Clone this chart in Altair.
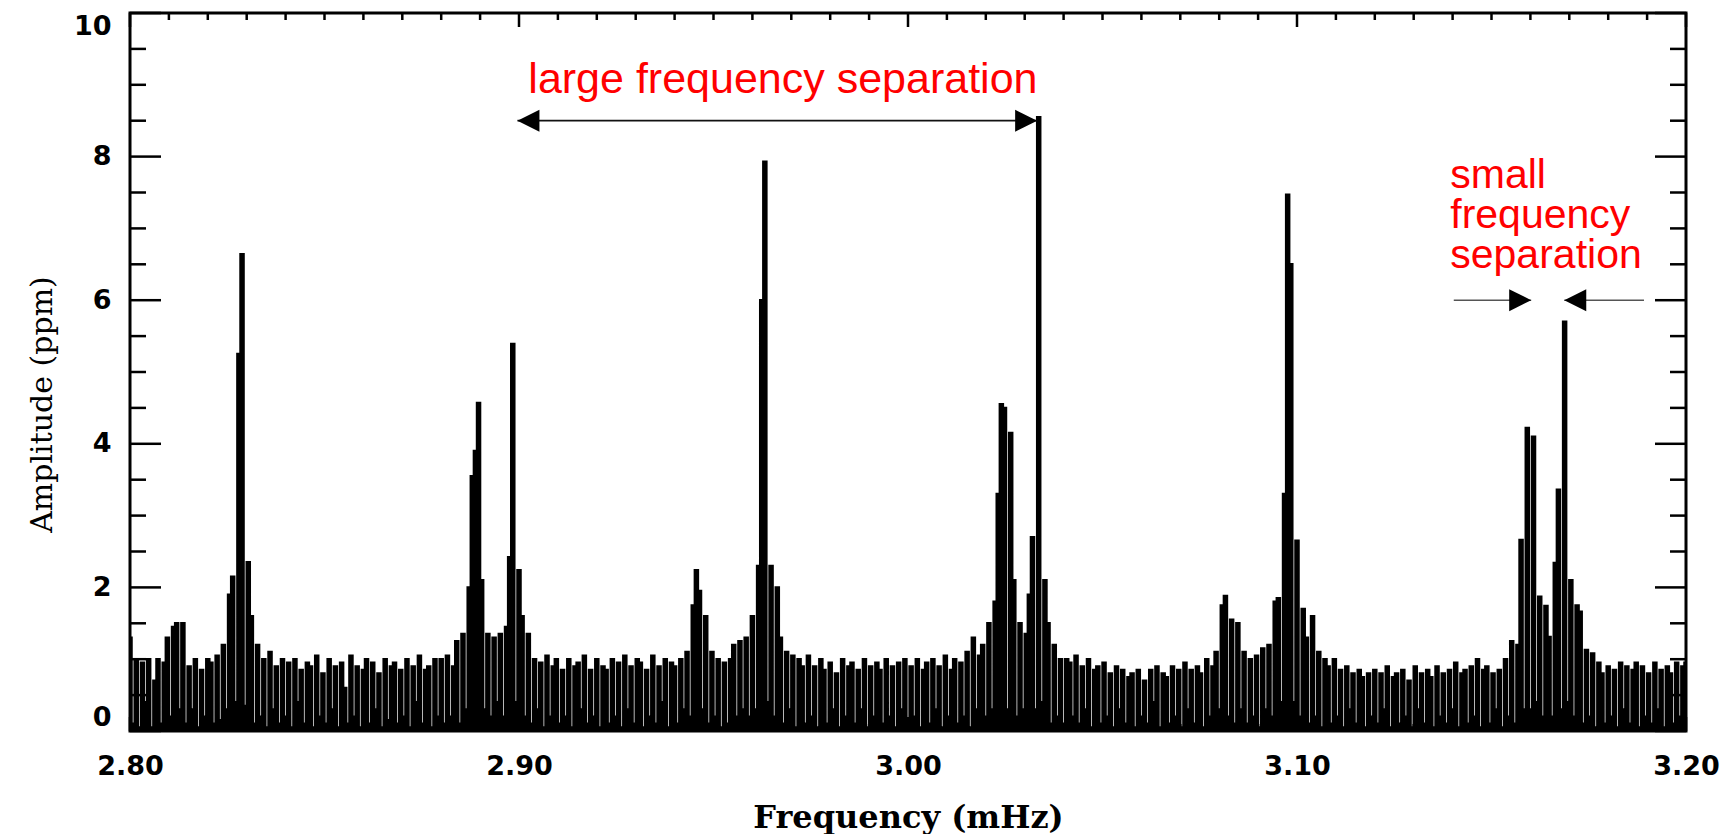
import altair as alt
import pandas as pd

# ---------------- data ----------------
F_START = 2.80      # mHz, first bin
F_STEP = 0.0008     # mHz, bin width

amp_2_80 = [1.3, 0.1, 1.0, 0.05, 0.95, 0.4, 1.0, 0.05, 0.7, 1.0,
            0.1, 0.95, 1.3, 0.2, 1.45, 1.5, 0.3, 1.5, 0.1, 0.9,
            0.3, 1.0, 0.05, 0.85, 0.2, 1.0, 0.95, 0.1, 1.05, 0.15,
            1.2, 0.3, 1.9, 2.15, 0.4, 5.25, 6.64, 0.35, 2.35, 1.6,
            0.1, 1.2, 0.2, 1.0, 0.05, 1.1, 0.3, 0.9, 0.1, 1.0]
amp_2_84 = [0.2, 0.95, 0.05, 1.0, 0.4, 0.85, 0.1, 0.95, 0.9, 0.05,
            1.05, 0.2, 0.8, 0.1, 1.0, 0.3, 0.9, 0.05, 0.95, 0.6,
            0.1, 1.05, 0.2, 0.9, 0.05, 0.85, 1.0, 0.1, 0.95, 0.3,
            0.8, 0.05, 1.0, 0.15, 0.9, 0.95, 0.1, 0.85, 0.2, 1.0,
            0.05, 0.9, 0.4, 1.05, 0.1, 0.85, 0.9, 0.05, 1.0, 0.2]
amp_2_88 = [1.0, 0.1, 1.05, 0.2, 0.9, 1.25, 0.1, 1.35, 0.3, 2.0,
            3.55, 3.9, 4.57, 2.1, 0.3, 1.35, 0.2, 1.3, 0.4, 1.35,
            0.2, 1.45, 2.42, 5.39, 0.4, 2.24, 1.6, 0.2, 1.35, 0.1,
            1.0, 0.3, 0.95, 0.05, 1.05, 0.2, 0.9, 1.0, 0.1, 0.85,
            0.2, 1.0, 0.05, 0.9, 0.95, 0.3, 1.05, 0.1, 0.85, 0.2]
amp_2_92 = [1.0, 0.05, 0.9, 0.85, 0.1, 1.0, 0.2, 0.95, 0.05, 1.05,
            0.3, 0.9, 0.1, 1.0, 0.95, 0.05, 0.85, 0.2, 1.05, 0.1,
            0.9, 0.4, 1.0, 0.05, 0.95, 0.9, 0.1, 1.0, 0.3, 1.1,
            0.2, 1.75, 2.24, 1.95, 0.3, 1.6, 0.1, 1.1, 0.2, 1.0,
            0.05, 0.95, 0.1, 1.0, 1.2, 0.2, 1.25, 0.3, 1.3, 0.2]
amp_2_96 = [1.6, 0.3, 2.3, 6.0, 7.93, 0.4, 2.3, 0.2, 2.0, 1.3,
            0.1, 1.1, 0.3, 1.05, 0.05, 1.0, 0.9, 0.1, 1.05, 0.2,
            0.9, 0.05, 1.0, 0.85, 0.1, 0.95, 0.3, 0.8, 0.05, 1.0,
            0.2, 0.9, 0.95, 0.1, 0.85, 0.3, 1.0, 0.05, 0.9, 0.2,
            0.95, 0.85, 0.1, 1.0, 0.2, 0.9, 0.05, 0.95, 0.3, 1.0]
amp_3_00 = [0.1, 0.9, 0.2, 1.0, 0.05, 0.85, 0.95, 0.1, 1.0, 0.3,
            0.9, 0.05, 1.05, 0.2, 0.85, 1.0, 0.1, 0.95, 0.2, 1.1,
            0.05, 1.3, 0.3, 1.05, 1.2, 0.2, 1.5, 0.3, 1.8, 3.3,
            4.55, 4.5, 0.3, 4.15, 2.1, 0.2, 1.5, 0.3, 1.35, 1.9,
            2.7, 0.3, 8.55, 0.4, 2.1, 1.5, 0.1, 1.2, 0.2, 1.0]
amp_3_04 = [0.1, 1.0, 0.95, 0.2, 1.05, 0.1, 0.9, 0.3, 1.0, 0.05,
            0.85, 0.9, 0.1, 0.95, 0.2, 0.8, 0.05, 0.9, 0.3, 0.85,
            0.1, 0.75, 0.8, 0.05, 0.85, 0.2, 0.7, 0.1, 0.85, 0.4,
            0.9, 0.05, 0.8, 0.75, 0.1, 0.9, 0.2, 0.85, 0.05, 0.95,
            0.3, 0.85, 0.1, 0.9, 0.8, 0.05, 1.0, 0.2, 0.9, 1.1]
amp_3_08 = [0.3, 1.75, 1.88, 0.2, 1.55, 0.1, 1.5, 0.3, 1.1, 0.1,
            1.0, 0.2, 1.05, 0.05, 1.15, 0.3, 1.2, 0.2, 1.8, 1.85,
            0.4, 3.3, 7.47, 6.5, 0.4, 2.65, 0.2, 1.7, 1.3, 0.1,
            1.6, 0.2, 1.1, 0.05, 1.0, 0.9, 0.1, 1.0, 0.2, 0.85,
            0.05, 0.9, 0.3, 0.8, 0.1, 0.85, 0.75, 0.05, 0.8, 0.2]
amp_3_12 = [0.85, 0.1, 0.8, 0.3, 0.9, 0.05, 0.75, 0.8, 0.1, 0.85,
            0.2, 0.7, 0.05, 0.9, 0.3, 0.8, 0.1, 0.85, 0.75, 0.05,
            0.9, 0.2, 0.8, 0.1, 0.85, 0.3, 0.95, 0.05, 0.8, 0.85,
            0.1, 0.9, 0.2, 1.0, 0.05, 0.85, 0.9, 0.1, 0.8, 0.3,
            0.85, 0.05, 1.0, 0.2, 1.25, 0.1, 1.2, 2.66, 0.3, 4.22]
amp_3_16 = [0.3, 4.1, 0.4, 1.87, 0.2, 1.74, 1.31, 0.2, 2.34, 3.36,
            0.3, 5.7, 0.4, 2.1, 0.2, 1.75, 1.66, 0.1, 1.13, 0.2,
            1.08, 0.05, 0.95, 0.8, 0.1, 0.9, 0.2, 0.85, 0.05, 0.95,
            0.3, 0.9, 0.1, 0.85, 0.95, 0.05, 0.9, 0.2, 0.8, 0.1,
            0.95, 0.3, 0.85, 0.05, 0.9, 0.8, 0.1, 0.95, 0.2, 0.9]
amp_3_20 = [0.95]

x_tick_labels = [2.80, 2.90, 3.00, 3.10, 3.20]
y_tick_labels = [0, 2, 4, 6, 8, 10]
y_minor_ticks = [0.5, 1, 1.5, 2.5, 3, 3.5, 4.5, 5, 5.5, 6.5, 7, 7.5, 8.5, 9, 9.5]
x_minor_ticks = [round(2.8 + 0.01 * k, 2) for k in range(41) if k % 10]

big_label = "large frequency separation"
small_label = "small\nfrequency\nseparation"

# annotation anchor values (mHz, ppm)
big_arrow = {"from": 2.8996, "to": 3.0332, "amp": 8.5}
small_arrow = {"left_start": 3.1403, "left_tip": 3.1602,
               "right_tip": 3.1687, "right_end": 3.1892, "amp": 6.0}

# ---------------- build tables ----------------
amplitude = (amp_2_80 + amp_2_84 + amp_2_88 + amp_2_92 + amp_2_96 +
             amp_3_00 + amp_3_04 + amp_3_08 + amp_3_12 + amp_3_16 + amp_3_20)
frequency = [round(F_START + F_STEP * i, 4) for i in range(len(amplitude))]
spec = pd.DataFrame({"freq": frequency, "amp": amplitude})

W, H = 1556, 718

xs = alt.Scale(domain=[2.8, 3.2], nice=False, zero=False)
ys = alt.Scale(domain=[0, 10], nice=False, zero=False)

x_axis = alt.Axis(values=x_tick_labels, format=".2f", title="Frequency (mHz)",
                  ticks=False, domain=False, grid=False, labelFlush=False,
                  labelPadding=22, labelFont="DejaVu Sans", labelFontWeight="bold",
                  labelFontSize=27, labelColor="black",
                  titleFont="DejaVu Serif", titleFontWeight="bold", titleFontSize=32,
                  titleColor="black", titleY=71, titleBaseline="top")
y_axis = alt.Axis(values=y_tick_labels, format="d", title="Amplitude (ppm)",
                  ticks=False, domain=False, grid=False, labelFlush=True,
                  labelPadding=19, labelFont="DejaVu Sans", labelFontWeight="bold",
                  labelFontSize=27, labelColor="black",
                  titleFont="DejaVu Serif", titleFontWeight="normal", titleFontSize=30,
                  titleColor="black", titleX=-88, titleY=391, titleBaseline="middle")


def X(field="freq"):
    return alt.X(f"{field}:Q", scale=xs, axis=x_axis)


def Y(field="amp"):
    return alt.Y(f"{field}:Q", scale=ys, axis=y_axis)


spec_fill = alt.Chart(spec).mark_area(interpolate="step", color="black", opacity=1,
                                      clip=True).encode(x=X(), y=Y())
spec_line = alt.Chart(spec).mark_line(interpolate="step", color="black",
                                      strokeWidth=2.4, clip=True).encode(x=X(), y=Y())


# ticks pointing inward on all four sides
def ytick(values, x0, x1):
    return alt.Chart(pd.DataFrame({"amp": values})).mark_rule(
        color="black", strokeWidth=2.5).encode(y=Y(), x=alt.value(x0), x2=alt.value(x1))


def xtick(values, y0, y1):
    return alt.Chart(pd.DataFrame({"freq": values})).mark_rule(
        color="black", strokeWidth=2.5).encode(x=X(), y=alt.value(y0), y2=alt.value(y1))


ticks = [
    ytick(y_tick_labels, 0, 31), ytick(y_tick_labels, W - 31, W),
    ytick(y_minor_ticks, 0, 16), ytick(y_minor_ticks, W - 16, W),
    xtick(x_tick_labels, 0, 14), xtick(x_tick_labels, H - 14, H),
    xtick(x_minor_ticks, 0, 7), xtick(x_minor_ticks, H - 7, H),
]

# arrows
big_line = alt.Chart(pd.DataFrame({"freq": [big_arrow["from"]], "freq2": [big_arrow["to"]],
                                   "amp": [big_arrow["amp"]]})).mark_rule(
    color="#111111", strokeWidth=1.8).encode(x=X(), x2=alt.X2("freq2"), y=Y())
small_lines = alt.Chart(pd.DataFrame({
    "freq": [small_arrow["left_start"], small_arrow["right_tip"]],
    "freq2": [small_arrow["left_tip"], small_arrow["right_end"]],
    "amp": [small_arrow["amp"]] * 2})).mark_rule(
    color="#555555", strokeWidth=1.6).encode(x=X(), x2=alt.X2("freq2"), y=Y())

RIGHT_HEAD = "M1,0L-1,-1L-1,1Z"
LEFT_HEAD = "M-1,0L1,-1L1,1Z"
heads_right = alt.Chart(pd.DataFrame({
    "freq": [big_arrow["to"], small_arrow["left_tip"]],
    "amp": [big_arrow["amp"], small_arrow["amp"]]})).mark_point(
    shape=RIGHT_HEAD, filled=True, size=484, color="black", opacity=1,
    xOffset=-11).encode(x=X(), y=Y())
heads_left = alt.Chart(pd.DataFrame({
    "freq": [big_arrow["from"], small_arrow["right_tip"]],
    "amp": [big_arrow["amp"], small_arrow["amp"]]})).mark_point(
    shape=LEFT_HEAD, filled=True, size=484, color="black", opacity=1,
    xOffset=11).encode(x=X(), y=Y())

# red texts
big_text = alt.Chart(pd.DataFrame({"freq": [2.9024], "amp": [8.89], "label": [big_label]})).mark_text(
    align="left", baseline="alphabetic", font="Liberation Sans", fontSize=43,
    color="#ff0000").encode(x=X(), y=Y(), text="label:N")
small_text = alt.Chart(pd.DataFrame({"freq": [3.1394], "amp": [7.56], "label": [small_label]})).mark_text(
    align="left", baseline="alphabetic", font="Liberation Sans", fontSize=41,
    lineHeight=40, lineBreak="\n",
    color="#ff0000").encode(x=X(), y=Y(), text="label:N")

chart = alt.layer(spec_fill, spec_line, *ticks, big_line, small_lines, heads_right, heads_left,
                  big_text, small_text).properties(
    width=W, height=H,
    padding={"left": 130, "top": 13, "right": 50, "bottom": 103},
    autosize=alt.AutoSizeParams(type="none"),
    background="white",
).configure_view(stroke="black", strokeWidth=3)

chart.save("out.html", embed_options={"renderer": "svg", "actions": False})
